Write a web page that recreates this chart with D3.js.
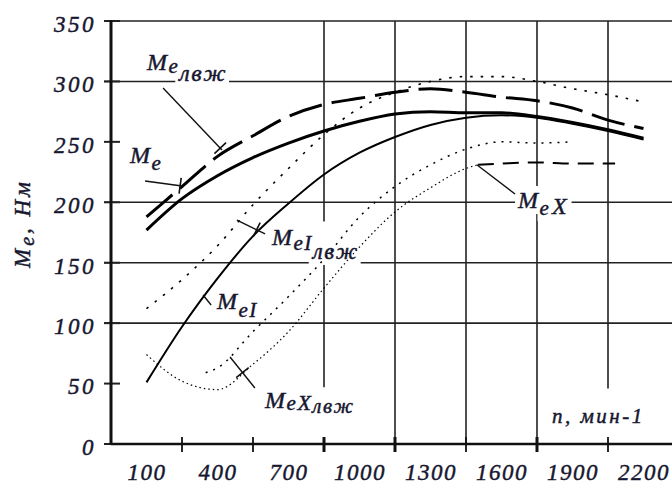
<!DOCTYPE html>
<meta charset="utf-8">
<style>
body { margin: 0; background: #fff; }
text { font-family: "Liberation Serif", "Times New Roman", serif; font-style: italic; fill: #17172f; stroke: #17172f; stroke-width: 0.45px; }
</style>
<body>
<svg id="chart" width="672" height="486"></svg>
<script src="https://cdn.jsdelivr.net/npm/d3@7"></script>
<script>

// crankshaft speed, min-1
var rpm = [100, 250, 400, 550, 700, 850, 1000, 1150, 1300, 1450, 1600, 1750, 1900, 2050, 2200];
var me      = [177, 203, 222, 237, 249, 259, 267, 273, 275, 274, 274, 271, 266, 260, 253];
var meLvzh  = [188, 213, 238, 255, 271, 281, 286, 291, 294, 291, 287, 284, 278, 268, 261];
var meI     = [51, 97, 137, 172, 199, 223, 241, 254, 264, 270, 272, 270, 265, 259, 252];
var meILvzh = [112, 136, 164, 198, 228, 256, 278, 291, 300, 304, 304, 300, 294, 289, 283];

var meXRpm = [100, 250, 400, 550, 700, 850, 1000, 1150, 1300, 1450, 1500, 1600, 1750, 1900, 2080];
var meX    = [74, 52, 45, 66, 93, 129, 163, 192, 212, 228, 231, 232, 233, 232, 232];

var meXLvzhRpm = [350, 400, 550, 700, 850, 1000, 1150, 1300, 1450, 1600, 1750, 1900];
var meXLvzh    = [59, 63, 93, 122, 153, 188, 213, 231, 244, 250, 249, 250];

var rpmLabels = [100, 400, 700, 1000, 1300, 1600, 1900, 2200];
var rpmTicks = [250, 550, 850, 1150, 1450, 1750, 2050];
var yTicks = [0, 50, 100, 150, 200, 250, 300, 350];
var yGrid = [100, 150, 200, 300, 350];

var svg = d3.select("#chart"),
    W = 672;

var x = d3.scaleLinear().domain([-50, 2350]).range([111, 679]),
    y = d3.scaleLinear().domain([0, 350]).range([444, 21]);

var gridLayer = svg.append("g"),
    bgLayer = svg.append("g"),
    curveLayer = svg.append("g"),
    textLayer = svg.append("g");

// horizontal grid
gridLayer.selectAll(".hgrid")
    .data(yGrid)
  .enter().append("line")
    .attr("x1", 104).attr("x2", W)
    .attr("y1", function(d) { return y(d); })
    .attr("y2", function(d) { return y(d); })
    .attr("stroke", "#222").attr("stroke-width", 1.6);

gridLayer.selectAll(".ytick")
    .data(yTicks)
  .enter().append("line")
    .attr("x1", 104).attr("x2", 120)
    .attr("y1", function(d) { return y(d); })
    .attr("y2", function(d) { return y(d); })
    .attr("stroke", "#222").attr("stroke-width", 2);

// vertical grid, broken where labels sit
var vGrid = [
  {n: 850, a: 350, b: 184}, {n: 850, a: 150, b: 47},
  {n: 1150, a: 350, b: 0}, {n: 1450, a: 350, b: 0},
  {n: 1750, a: 350, b: 0}, {n: 2050, a: 350, b: 46}
];
gridLayer.selectAll(".vgrid")
    .data(vGrid)
  .enter().append("line")
    .attr("x1", function(d) { return x(d.n); })
    .attr("x2", function(d) { return x(d.n); })
    .attr("y1", function(d) { return y(d.a); })
    .attr("y2", function(d) { return y(d.b); })
    .attr("stroke", "#222").attr("stroke-width", 1.6);

gridLayer.selectAll(".xtick")
    .data(rpmTicks)
  .enter().append("line")
    .attr("x1", function(d) { return x(d); })
    .attr("x2", function(d) { return x(d); })
    .attr("y1", y(0) - 7).attr("y2", y(0) + 8)
    .attr("stroke", "#111")
    .attr("stroke-width", function(d) { return (d == 850 || d == 1150 || d == 1750) ? 3 : 1.8; });

// axis lines
gridLayer.append("line")
    .attr("x1", x(-50)).attr("x2", x(-50))
    .attr("y1", y(350) - 1).attr("y2", y(0) + 1)
    .attr("stroke", "#111").attr("stroke-width", 3);
gridLayer.append("line")
    .attr("x1", x(-50)).attr("x2", W)
    .attr("y1", y(0)).attr("y2", y(0))
    .attr("stroke", "#111").attr("stroke-width", 2.5);

// tick labels
var yAxis = svg.append("g")
    .attr("transform", "translate(" + x(-50) + ",3)")
    .call(d3.axisLeft(y).tickValues(yTicks).tickSize(0).tickPadding(15));
yAxis.select(".domain").remove();
yAxis.selectAll("text")
    .attr("font-family", null).attr("font-size", null)
    .style("font-size", "23px").style("letter-spacing", "2.5px");

var xAxis = svg.append("g")
    .attr("transform", "translate(0," + y(0) + ")")
    .call(d3.axisBottom(x).tickValues(rpmLabels).tickFormat(d3.format("d")).tickSize(0).tickPadding(20));
xAxis.select(".domain").remove();
xAxis.selectAll("text")
    .attr("font-family", null).attr("font-size", null)
    .style("font-size", "23px").style("letter-spacing", "1.5px");

// curves
var line = d3.line()
    .defined(function(d) { return d[1] != null; })
    .x(function(d) { return x(d[0]); })
    .y(function(d) { return y(d[1]); })
    .curve(d3.curveMonotoneX);

function pts(xs, vs) { return xs.map(function(n, i) { return [n, vs[i]]; }); }

var meXPts = pts(meXRpm, meX);
var series = [
  {p: pts(rpm, meILvzh), w: 1.6, dash: "2.5,8"},
  {p: pts(meXLvzhRpm, meXLvzh), w: 1.5, dash: "2,6"},
  {p: meXPts.filter(function(d) { return d[0] <= 1500; }), w: 1.2, dash: "1.5,3"},
  {p: meXPts.filter(function(d) { return d[0] >= 1500; }), w: 2, dash: "16,9"},
  {p: pts(rpm, meI), w: 2, dash: null},
  {p: pts(rpm, meLvzh), w: 3, dash: "34,10"},
  {p: pts(rpm, me), w: 3, dash: null}
];

curveLayer.selectAll(".curve")
    .data(series)
  .enter().append("path")
    .attr("fill", "none")
    .attr("stroke", "#000")
    .attr("stroke-width", function(d) { return d.w; })
    .attr("stroke-dasharray", function(d) { return d.dash; })
    .attr("d", function(d) { return line(d.p); });

// labels: parts laid out one after another; bg parts get a white patch
function label(n, v, parts, rot) {
  var tr = "translate(" + x(n) + "," + y(v) + ")" + (rot ? " rotate(" + rot + ")" : "");
  var g = textLayer.append("g").attr("transform", tr),
      bg = bgLayer.append("g").attr("transform", tr),
      cx = 0;
  parts.forEach(function(p) {
    var t = g.append("text")
        .attr("x", cx).attr("y", p.dy || 0)
        .style("font-size", p.s + "px")
        .style("letter-spacing", (p.ls == null ? 1.5 : p.ls) + "px")
        .text(p.t);
    if (p.bg) {
      var b = t.node().getBBox();
      bg.append("rect")
          .attr("x", b.x - 2).attr("y", b.y - 1)
          .attr("width", b.width + 4).attr("height", b.height + 2)
          .attr("fill", "#fff");
    }
    cx += t.node().getComputedTextLength();
  });
}

label(102, 309.5, [{t: "M", s: 24}, {t: "e", s: 21, dy: 3}, {t: "лвж", s: 24, dy: 11, ls: 1.5, bg: true}]);
label(30, 232.5, [{t: "M", s: 24}, {t: "e", s: 21, dy: 7}]);
label(630, 164.7, [{t: "M", s: 24, bg: true}, {t: "eI", s: 21, dy: 5, bg: true}, {t: "лвж", s: 23, dy: 14, ls: 1.5, bg: true}]);
label(398, 111.7, [{t: "M", s: 24}, {t: "eI", s: 21, dy: 8}]);
label(1670, 195.3, [{t: "M", s: 24, bg: true}, {t: "e", s: 21, dy: 7, bg: true, ls: 3}, {t: "X", s: 24, dy: 6, bg: true, ls: 3}]);
label(601, 29.8, [{t: "M", s: 24}, {t: "e", s: 21, dy: 2}, {t: "X", s: 22, dy: 2}, {t: "лвж", s: 21, dy: 5, ls: 1.5}]);
label(1813, 17.4, [{t: "n, мин-1", s: 21, ls: 2.5}]);

// axis title
var ty = textLayer.append("g").attr("transform", "translate(30,268) rotate(-90)");
var tcx = 0;
[{t: "M", s: 23, dy: 0}, {t: "e", s: 20, dy: 4}, {t: ", Нм", s: 23, dy: 0}].forEach(function(p) {
  var t = ty.append("text").attr("x", tcx).attr("y", p.dy)
      .style("font-size", p.s + "px").style("letter-spacing", "3px").text(p.t);
  tcx += t.node().getComputedTextLength();
});

// leader lines with a small cross mark
function leader(n1, v1, n2, v2, at) {
  var x1 = x(n1), y1 = y(v1), x2 = x(n2), y2 = y(v2);
  textLayer.append("line")
      .attr("x1", x1).attr("y1", y1).attr("x2", x2).attr("y2", y2)
      .attr("stroke", "#111").attr("stroke-width", 1.4);
  if (at == null) return;
  var len = Math.hypot(x2 - x1, y2 - y1),
      ux = (x2 - x1) / len, uy = (y2 - y1) / len,
      mx = x1 + (x2 - x1) * at, my = y1 + (y2 - y1) * at;
  textLayer.append("line")
      .attr("x1", mx - uy * 8).attr("y1", my + ux * 8)
      .attr("x2", mx + uy * 8).attr("y2", my - ux * 8)
      .attr("stroke", "#111").attr("stroke-width", 1.6);
}

leader(170, 294.6, 419, 243.3, 0.97);
leader(94, 217.6, 250, 213.5, 0.95);
leader(482, 185.3, 601, 173.8, 0.7);
leader(339, 123.3, 373, 115);
leader(1497, 230.8, 1657, 206.9);
leader(453, 72, 558, 46.3, 0.5);

</script>
</body>
